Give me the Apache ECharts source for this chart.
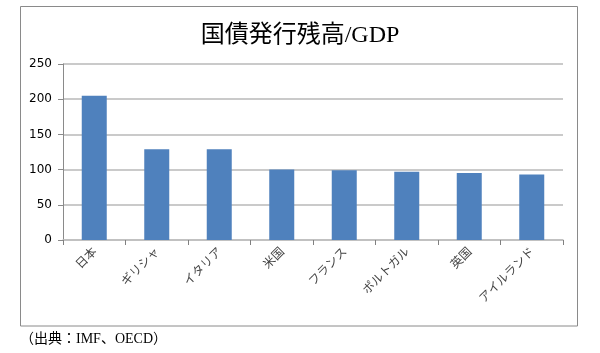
<!DOCTYPE html>
<html><head><meta charset="utf-8">
<script src="https://cdn.jsdelivr.net/npm/echarts@6/dist/echarts.min.js"></script>
<style>html,body{margin:0;padding:0;background:#fff}#c{width:600px;height:353px}</style>
</head><body><div id="c"></div>
<script>
const categories = ['日本','ギリシャ','イタリア','米国','フランス','ポルトガル','英国','アイルランド'];
const values = [205, 129, 129, 100, 99, 97, 95, 93];
const yTicks = [0, 50, 100, 150, 200, 250];
const titleText = '国債発行残高/GDP';
const sourceText = '（出典：IMF、OECD）';

const chart = echarts.init(document.getElementById('c'), null, {renderer:'canvas'});
chart.setOption({
  backgroundColor:'#fff',
  animation:false,
  title:{text:titleText,left:'center',top:19,
    textStyle:{fontFamily:'"Liberation Serif","Noto Sans CJK JP",serif',fontSize:24,fontWeight:'normal',color:'#000'}},
  graphic:[
    {type:'rect',shape:{x:20.5,y:6.5,width:557,height:319.5},style:{fill:'none',stroke:'#8a8a8a',lineWidth:1}},
    {type:'text',left:20,top:332,style:{text:sourceText,font:'14px "Liberation Serif","Noto Sans CJK JP",serif',fill:'#000'}}
  ],
  grid:{left:63,right:37,top:64,bottom:113,containLabel:false},
  xAxis:{type:'category',data:categories,
    axisLine:{lineStyle:{color:'#bfbfbf',width:1.5}},
    axisTick:{show:true,alignWithLabel:false,length:5,lineStyle:{color:'#808080'}},
    axisLabel:{rotate:45,interval:0,margin:9,fontSize:12,color:'#444',fontFamily:'"Noto Sans CJK JP",sans-serif'}},
  yAxis:{type:'value',min:0,max:250,interval:50,
    axisLine:{show:true,lineStyle:{color:'#8a8a8a'}},
    axisTick:{show:true,length:5,lineStyle:{color:'#8a8a8a'}},
    splitLine:{lineStyle:{color:'#b8b8b8',width:1.5}},
    axisLabel:{fontSize:12,color:'#000',margin:11,fontFamily:'"DejaVu Sans",sans-serif',
      formatter:v=>yTicks.includes(v)?String(v):''}},
  series:[{type:'bar',data:values,barWidth:'40%',
    itemStyle:{color:'#4f81bd'}}]
});
</script></body></html>
